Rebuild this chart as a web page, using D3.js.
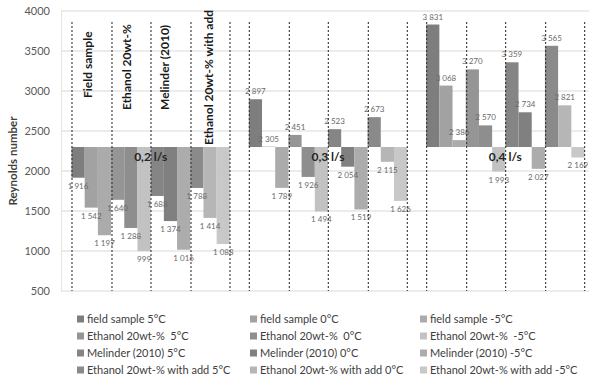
<!DOCTYPE html>
<html><head><meta charset="utf-8">
<script src="https://cdn.jsdelivr.net/npm/d3@7"></script>
<style>body{margin:0;background:#fff}svg{display:block;font-family:Lato,"Open Sans",sans-serif}text{white-space:pre}</style>
</head><body><svg id="c" width="589" height="379"></svg>
<script>
const groups = ["0,2 l/s", "0,3 l/s", "0,4 l/s"];
const subgroups = ["Field sample", "Ethanol 20wt-%", "Melinder (2010)", "Ethanol 20wt-% with add"];
const seriesNames = [
  "field sample 5°C", "field sample 0°C", "field sample -5°C",
  "Ethanol 20wt-%  5°C", "Ethanol 20wt-%  0°C", "Ethanol 20wt-%  -5°C",
  "Melinder (2010) 5°C", "Melinder (2010) 0°C", "Melinder (2010) -5°C",
  "Ethanol 20wt-% with add 5°C", "Ethanol 20wt-% with add 0°C", "Ethanol 20wt-% with add -5°C"
];
// values per group (0.2, 0.3, 0.4 l/s), in series order
const values02 = [1916, 1542, 1197, 1640, 1288, 999, 1688, 1374, 1016, 1788, 1414, 1088];
const values03 = [2897, 2305, 1789, 2451, 1926, 1494, 2523, 2054, 1519, 2673, 2115, 1626];
const values04 = [3831, 3068, 2386, 3270, 2570, 1993, 3359, 2734, 2027, 3565, 2821, 2169];
const baseline = 2300;
const yTicks = [500, 1000, 1500, 2000, 2500, 3000, 3500, 4000];

const colors = ["#7e7e7e", "#a2a2a2", "#ababab", "#959595", "#8e8e8e", "#c2c2c2",
                "#858585", "#808080", "#acacac", "#8a8a8a", "#b6b6b6", "#c8c8c8"];
const subLabelLayout = [{dx: -3, y: 98}, {dx: -4, y: 110}, {dx: -6, y: 110}, {dx: -1, y: 145}];

const svg = d3.select("#c");
const plot = {l: 61, r: 589, t: 11, b: 291};
const y = d3.scaleLinear().domain([500, 4000]).range([plot.b, plot.t]);
const x0 = d3.scaleBand().domain(groups).range([62, 594]).paddingInner(0.107).paddingOuter(0.0535);
const x1 = d3.scaleBand().domain(d3.range(seriesNames.length)).range([0, x0.bandwidth()]);
const xs = d3.scaleBand().domain(subgroups).range([0, x0.bandwidth()]);
const groupValues = [values02, values03, values04];
const fmt = v => d3.format(",")(v).replace(/,/g, "\u00a0");

// gridlines
svg.append("g").selectAll("line").data(yTicks).join("line")
  .attr("x1", plot.l).attr("x2", plot.r).attr("y1", d => y(d)).attr("y2", d => y(d))
  .attr("stroke", "#d9d9d9").attr("stroke-width", 1);
svg.append("line").attr("x1", plot.l + 0.5).attr("x2", plot.l + 0.5).attr("y1", plot.t).attr("y2", plot.b)
  .attr("stroke", "#e4e4e4");

// y tick labels
svg.append("g").selectAll("text").data(yTicks).join("text")
  .attr("x", 50).attr("y", d => y(d)).attr("dy", "0.35em").attr("text-anchor", "end")
  .attr("font-size", 11).attr("fill", "#595959").text(d => d);

svg.append("text").attr("transform", `translate(13,161) rotate(-90)`)
  .attr("text-anchor", "middle").attr("dy", "0.35em").attr("font-size", 11.5).attr("font-weight", "bold")
  .attr("fill", "#404040").text("Reynolds number");

// bars
const gG = svg.append("g").selectAll("g").data(groups).join("g")
  .attr("transform", d => `translate(${x0(d)},0)`);
gG.each(function(g, gi) {
  const sel = d3.select(this);
  const vals = groupValues[gi];
  sel.selectAll("rect").data(vals).join("rect")
    .attr("x", (d, i) => x1(i)).attr("width", x1.bandwidth())
    .attr("y", d => y(Math.max(d, baseline))).attr("height", d => Math.abs(y(d) - y(baseline)))
    .attr("fill", (d, i) => colors[i]);
  sel.selectAll("text.v").data(vals).join("text").attr("class", "v")
    .attr("x", (d, i) => x1(i) + x1.bandwidth() / 2)
    .attr("y", d => d >= baseline ? y(d) - 5 : y(d) + 11)
    .attr("text-anchor", "middle").attr("font-size", 8).attr("fill", "#6a6a6a").text(d => fmt(d));
  // dotted separators
  const bounds = subgroups.map(s => xs(s)).concat([x0.bandwidth()]);
  sel.selectAll("line").data(bounds).join("line")
    .attr("x1", d => Math.round(d) + 0.5).attr("x2", d => Math.round(d) + 0.5)
    .attr("y1", 22).attr("y2", plot.b)
    .attr("stroke", "#333333").attr("stroke-width", 1.1).attr("stroke-dasharray", "2,2");
  sel.append("text").attr("x", x0.bandwidth() / 2).attr("y", 161)
    .attr("text-anchor", "middle").attr("font-size", 12).attr("font-weight", "bold")
    .attr("fill", "#262626").text(g);
});

// subgroup labels in first group
svg.append("g").selectAll("text").data(subgroups).join("text")
  .attr("transform", (d, i) => `translate(${x0(groups[0]) + xs(d) + xs.bandwidth() / 2 + subLabelLayout[i].dx},${subLabelLayout[i].y}) rotate(-90)`)
  .attr("dy", "0.35em").attr("font-size", 12).attr("font-weight", "bold").attr("fill", "#1a1a1a")
  .text(d => d);

// legend
const legX = [77, 250, 420], legY = [319, 336, 353, 370];
const leg = svg.append("g").selectAll("g").data(seriesNames).join("g")
  .attr("transform", (d, i) => `translate(${legX[i % 3]},${legY[Math.floor(i / 3)]})`);
leg.append("rect").attr("x", 0).attr("y", -3.5).attr("width", 7).attr("height", 7).attr("fill", (d, i) => colors[i]);
leg.append("text").attr("x", 10).attr("dy", "0.35em").attr("font-size", 11).attr("fill", "#404040").text(d => d);
</script></body></html>
